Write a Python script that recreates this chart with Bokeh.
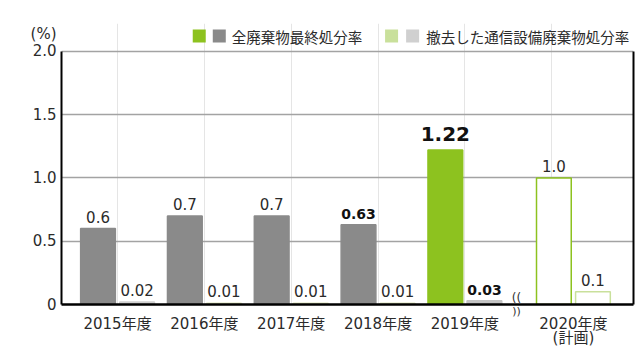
from bokeh.plotting import figure
from bokeh.models import (ColumnDataSource, FixedTicker, LinearAxis, Range1d, Grid)
from bokeh.core.properties import value
from bokeh.embed import file_html
from bokeh.resources import INLINE

# ---- data ----
years = ["2015年度", "2016年度", "2017年度", "2018年度", "2019年度", "2020年度\n(計画)"]
total_rate = [0.6, 0.7, 0.7, 0.63, 1.22, 1.0]
telecom_rate = [0.02, 0.01, 0.01, 0.01, 0.03, 0.1]
total_labels = ["0.6", "0.7", "0.7", "0.63", "1.22", "1.0"]
telecom_labels = ["0.02", "0.01", "0.01", "0.01", "0.03", "0.1"]
y_ticks = [0, 0.5, 1.0, 1.5, 2.0]
y_tick_labels = ["0", "0.5", "1.0", "1.5", "2.0"]
unit_label = "(%)"
legend_labels = ["全廃棄物最終処分率", "撤去した通信設備廃棄物処分率"]

CJK = "Noto Sans CJK JP"
NUM = "DejaVu Sans, Noto Sans CJK JP"
GRAY = "#8a8a8a"
GREEN = "#8dc21f"
LGRAY = "#d0d0d0"
LGREEN = "#c9e09b"
TXT = "#2b2b2b"

# group positions (gap before the planned year)
xpos = [float(i) for i in range(5)] + [5.25]
OFF = 0.225
W = 0.40

X0, X1 = -0.6455, 5.942
Y0, Y1 = 0.0, 2.22

p = figure(width=640, height=360, output_backend="svg", toolbar_location=None,
           x_range=Range1d(X0, X1), y_range=Range1d(Y0, Y1),
           x_axis_location=None, y_axis_location=None,
           min_border_left=61, min_border_right=7, min_border_top=23, min_border_bottom=56)
p.outline_line_color = None
p.background_fill_color = "white"

# pixel helpers (frame: left 61, top 23, right 632, bottom 304)
PXX = 571.0 / (X1 - X0)
PXY = 281.0 / (Y1 - Y0)
def dx(px):
    return X0 + (px - 61) / PXX
def dy(py):
    return (304 - py) / PXY

p.add_layout(Grid(dimension=1, ticker=FixedTicker(ticks=[0.5, 1.0, 1.5, 2.0]),
                  grid_line_color="#a3a3a3", grid_line_width=1.5))

# ---- bars ----
total_fill = [GRAY] * 4 + [GREEN, "white"]
total_line = [GRAY] * 4 + [GREEN, GREEN]
tele_fill = [LGRAY] + ["#dfe6bd"] * 3 + ["#c4c4c4", "white"]
tele_line = [LGRAY] + ["#dfe6bd"] * 3 + ["#c4c4c4", LGREEN]

tx = [v - OFF for v in xpos]
sx = [v + OFF for v in xpos]
src_t = ColumnDataSource(dict(x=tx, top=total_rate, fill=total_fill, line=total_line))
src_s = ColumnDataSource(dict(x=sx, top=telecom_rate, fill=tele_fill, line=tele_line))
p.vbar(x="x", top="top", bottom=0, width=W, fill_color="fill", line_color="line",
       line_width=1.5, source=src_t)
p.vbar(x="x", top="top", bottom=0, width=W, fill_color="fill", line_color="line",
       line_width=1.5, source=src_s)

# ---- value labels ----
def add_labels(xs, tops, labs, idx, size, style, color, offset):
    s = ColumnDataSource(dict(x=[xs[i] for i in idx], y=[tops[i] for i in idx],
                              t=[labs[i] for i in idx]))
    p.text(x="x", y="y", text="t", source=s, text_align="center", text_baseline="bottom",
           y_offset=-offset, text_font=value(NUM), text_font_size=size,
           text_font_style=style, text_color=color)

add_labels(tx, total_rate, total_labels, [0, 1, 2, 5], "15px", "normal", TXT, 6)
add_labels(tx, total_rate, total_labels, [3], "14px", "bold", "#111111", 6)
add_labels(tx, total_rate, total_labels, [4], "20px", "bold", "#111111", 9)
add_labels(sx, telecom_rate, telecom_labels, [0, 1, 2, 3, 5], "15px", "normal", TXT, 6)
add_labels(sx, telecom_rate, telecom_labels, [4], "14px", "bold", "#111111", 6)

# ---- axes ----
# inner left axis: line only, up to 2.0
ya_line = LinearAxis(bounds=(0, 2), ticker=FixedTicker(ticks=[]), axis_line_color="black",
                     axis_line_width=2, major_tick_out=0, major_tick_in=0,
                     minor_tick_out=0, minor_tick_in=0, major_label_standoff=0)
p.add_layout(ya_line, "left")
# outer left axis: labels (incl. unit)
lab_ticks = y_ticks + [dy(33)]
lab_text = y_tick_labels + [unit_label]
ya_lab = LinearAxis(ticker=FixedTicker(ticks=lab_ticks),
                    major_label_overrides={t: l for t, l in zip(lab_ticks, lab_text)},
                    axis_line_color=None, major_tick_line_color=None, minor_tick_line_color=None,
                    major_tick_out=0, major_tick_in=0, minor_tick_out=0, minor_tick_in=0,
                    major_label_standoff=5, major_label_text_font=NUM,
                    major_label_text_font_size="15px", major_label_text_color=TXT)
p.add_layout(ya_lab, "left")

# right border
ra = LinearAxis(bounds=(0, 2), axis_line_color="black", axis_line_width=2,
                major_tick_out=0, major_tick_in=0, minor_tick_out=0, minor_tick_in=0,
                major_label_standoff=0, ticker=FixedTicker(ticks=[]))
p.add_layout(ra, "right")

# inner bottom axis: black line + lower half of the break mark
bx = (sx[4] + W / 2 + tx[5] - W / 2) / 2 - 0.03
xa_line = LinearAxis(ticker=FixedTicker(ticks=[bx]), major_label_overrides={bx: "))"},
                     axis_line_color="black", axis_line_width=2.5,
                     major_tick_line_color=None, minor_tick_line_color=None,
                     major_tick_out=0, major_tick_in=0, minor_tick_out=0, minor_tick_in=0,
                     major_label_standoff=0, major_label_text_font="DejaVu Sans",
                     major_label_text_font_size="11px", major_label_text_color="#333333")
p.add_layout(xa_line, "below")
# outer bottom axis: year labels
xa = LinearAxis(ticker=FixedTicker(ticks=xpos),
                major_label_overrides={t: l for t, l in zip(xpos, years)},
                axis_line_color=None, major_tick_line_color=None, minor_tick_line_color=None,
                major_tick_out=0, major_tick_in=0, minor_tick_out=0, minor_tick_in=0,
                major_label_standoff=-6, major_label_text_font=NUM,
                major_label_text_font_size="15px", major_label_text_color=TXT,
                major_label_text_line_height=0.8)
p.add_layout(xa, "below")

# upper half of the break mark
p.text(x=[bx], y=[0], text=["(("], text_align="center", text_baseline="bottom",
       y_offset=0, text_font=value("DejaVu Sans"), text_font_size="12px", text_color="#333333")

# ---- legend ----
sq = 13
p.scatter(x=[dx(198.5), dx(218.5), dx(390.5), dx(411.5)], y=[dy(35.5)] * 4, marker="square",
          size=sq, fill_color=[GREEN, GRAY, LGREEN, LGRAY], line_color=None)
p.text(x=[dx(231), dx(425)], y=[dy(35.5)] * 2, text=legend_labels, text_align="left",
       text_baseline="middle", text_font=value(CJK), text_font_size="14.5px",
       text_color=TXT)

open("out.html", "w").write(file_html(p, INLINE))
